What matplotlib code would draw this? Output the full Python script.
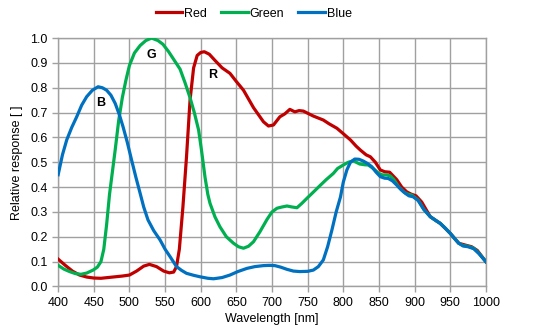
import matplotlib.pyplot as plt
import matplotlib as mpl

mpl.rcParams['font.family'] = ['Liberation Sans', 'DejaVu Sans']

# values
red_wl = [400, 410, 420, 430, 440, 450, 460, 470, 480, 490, 500, 510, 520, 528, 538, 548, 556, 562, 566,
          570, 575, 580, 585, 590, 595, 600, 605, 612, 620, 630, 641, 650, 660, 674, 688, 695, 702, 711,
          718, 725, 732, 738, 744, 758, 772, 780, 791, 800, 810, 818, 824, 832, 838, 845, 852, 858, 865,
          875, 882, 889, 895, 902, 910, 922, 936, 950, 962, 972, 980, 988, 1000]
red_val = [0.11, 0.085, 0.062, 0.046, 0.038, 0.034, 0.033, 0.036, 0.039, 0.042, 0.046, 0.062, 0.082, 0.089,
           0.08, 0.062, 0.055, 0.058, 0.08, 0.15, 0.32, 0.52, 0.75, 0.88, 0.93, 0.942, 0.945, 0.935, 0.91,
           0.88, 0.858, 0.825, 0.79, 0.72, 0.663, 0.646, 0.65, 0.683, 0.695, 0.713, 0.703, 0.708, 0.706,
           0.686, 0.67, 0.655, 0.637, 0.615, 0.59, 0.565, 0.549, 0.53, 0.522, 0.5, 0.469, 0.462, 0.46,
           0.43, 0.4, 0.381, 0.372, 0.365, 0.34, 0.281, 0.254, 0.214, 0.174, 0.166, 0.16, 0.145, 0.1]

green_wl = [400, 408, 416, 424, 432, 440, 449, 455, 460, 464, 468, 472, 476, 480, 485, 490, 495, 500, 507,
            515, 523, 531, 540, 547, 555, 563, 571, 578, 585, 591, 597, 601, 606, 610, 613, 620, 627, 636,
            646, 653, 660, 667, 674, 683, 693, 700, 707, 714, 721, 728, 735, 742, 749, 758, 768, 776, 786,
            792, 800, 807, 814, 823, 830, 835, 842, 850, 855, 861, 866, 871, 878, 885, 890, 896, 905, 913,
            922, 930, 936, 943, 950, 957, 962, 968, 975, 983, 990, 1000]
green_val = [0.085, 0.07, 0.06, 0.052, 0.049, 0.054, 0.066, 0.078, 0.1, 0.15, 0.25, 0.37, 0.46, 0.55, 0.67,
             0.76, 0.83, 0.89, 0.94, 0.97, 0.99, 1.0, 0.99, 0.975, 0.945, 0.91, 0.875, 0.82, 0.76, 0.7,
             0.63, 0.55, 0.44, 0.37, 0.335, 0.28, 0.24, 0.2, 0.174, 0.16, 0.154, 0.162, 0.18, 0.22, 0.27,
             0.3, 0.315, 0.32, 0.324, 0.32, 0.317, 0.335, 0.355, 0.38, 0.408, 0.43, 0.455, 0.475, 0.489,
             0.5, 0.506, 0.493, 0.49, 0.489, 0.475, 0.455, 0.449, 0.449, 0.445, 0.43, 0.4, 0.38, 0.372,
             0.368, 0.348, 0.31, 0.281, 0.265, 0.254, 0.235, 0.214, 0.19, 0.174, 0.165, 0.162, 0.154,
             0.135, 0.1]

blue_wl = [400, 406, 412, 419, 426, 433, 440, 448, 456, 462, 468, 474, 480, 486, 491, 497, 503, 509, 515,
           520, 526, 534, 543, 550, 557, 566, 573, 580, 590, 599, 610, 618, 630, 641, 652, 665, 676, 688,
           697, 704, 712, 721, 730, 739, 750, 758, 765, 772, 778, 784, 790, 796, 800, 805, 810, 816, 822,
           828, 834, 840, 846, 852, 858, 863, 869, 875, 881, 887, 892, 898, 905, 913, 922, 930, 936, 943,
           950, 957, 962, 968, 975, 983, 990, 1000]
blue_val = [0.45, 0.53, 0.59, 0.64, 0.683, 0.73, 0.764, 0.79, 0.804, 0.8, 0.79, 0.77, 0.737, 0.69, 0.643,
            0.58, 0.509, 0.44, 0.375, 0.32, 0.268, 0.225, 0.187, 0.15, 0.12, 0.08, 0.065, 0.053, 0.045,
            0.039, 0.033, 0.031, 0.036, 0.046, 0.06, 0.073, 0.08, 0.084, 0.085, 0.084, 0.078, 0.069,
            0.062, 0.06, 0.061, 0.066, 0.08, 0.107, 0.16, 0.227, 0.3, 0.36, 0.42, 0.469, 0.5, 0.513,
            0.512, 0.505, 0.495, 0.482, 0.46, 0.442, 0.436, 0.435, 0.425, 0.408, 0.39, 0.375, 0.365,
            0.361, 0.346, 0.31, 0.281, 0.265, 0.254, 0.235, 0.214, 0.19, 0.174, 0.163, 0.16, 0.152,
            0.133, 0.1]

fig = plt.figure(figsize=(5.54, 3.31), dpi=100)
ax = fig.add_axes([0.105, 0.1345, 0.772, 0.7505])

lw = 2.3
ax.plot(red_wl, red_val, color='#C00000', lw=lw, label='Red', solid_joinstyle='round', zorder=3)
ax.plot(green_wl, green_val, color='#00B050', lw=lw, label='Green', solid_joinstyle='round', zorder=3)
ax.plot(blue_wl, blue_val, color='#0070C0', lw=lw, label='Blue', solid_joinstyle='round', zorder=4)

ax.text(459, 0.74, 'B', fontsize=9, fontweight='bold', ha='center', va='center', zorder=5)
ax.text(530, 0.93, 'G', fontsize=9, fontweight='bold', ha='center', va='center', zorder=5)
ax.text(617, 0.85, 'R', fontsize=9, fontweight='bold', ha='center', va='center', zorder=5)

ax.set_xlim(400, 1000)
ax.set_ylim(0, 1.0)
ax.set_xticks(range(400, 1001, 50))
ax.set_yticks([i / 10 for i in range(11)])
ax.set_yticklabels(['%.1f' % (i / 10) for i in range(11)])
ax.grid(True, color='#a0a0a0', lw=1.0)
ax.set_axisbelow(True)
for s in ax.spines.values():
    s.set_color('#a0a0a0')
    s.set_linewidth(1.0)
ax.tick_params(axis='both', colors='#a0a0a0', labelcolor='black', labelsize=9, length=4, width=1)

ax.set_xlabel('Wavelength [nm]', fontsize=9, labelpad=3)
ax.set_ylabel('Relative response [ ]', fontsize=9, labelpad=5)

fig.legend(loc='center', bbox_to_anchor=(0.458, 0.959), ncol=3, frameon=False, fontsize=9,
           handlelength=2.15, handletextpad=0.15, columnspacing=1.1)

plt.savefig('out.png', dpi=100)
